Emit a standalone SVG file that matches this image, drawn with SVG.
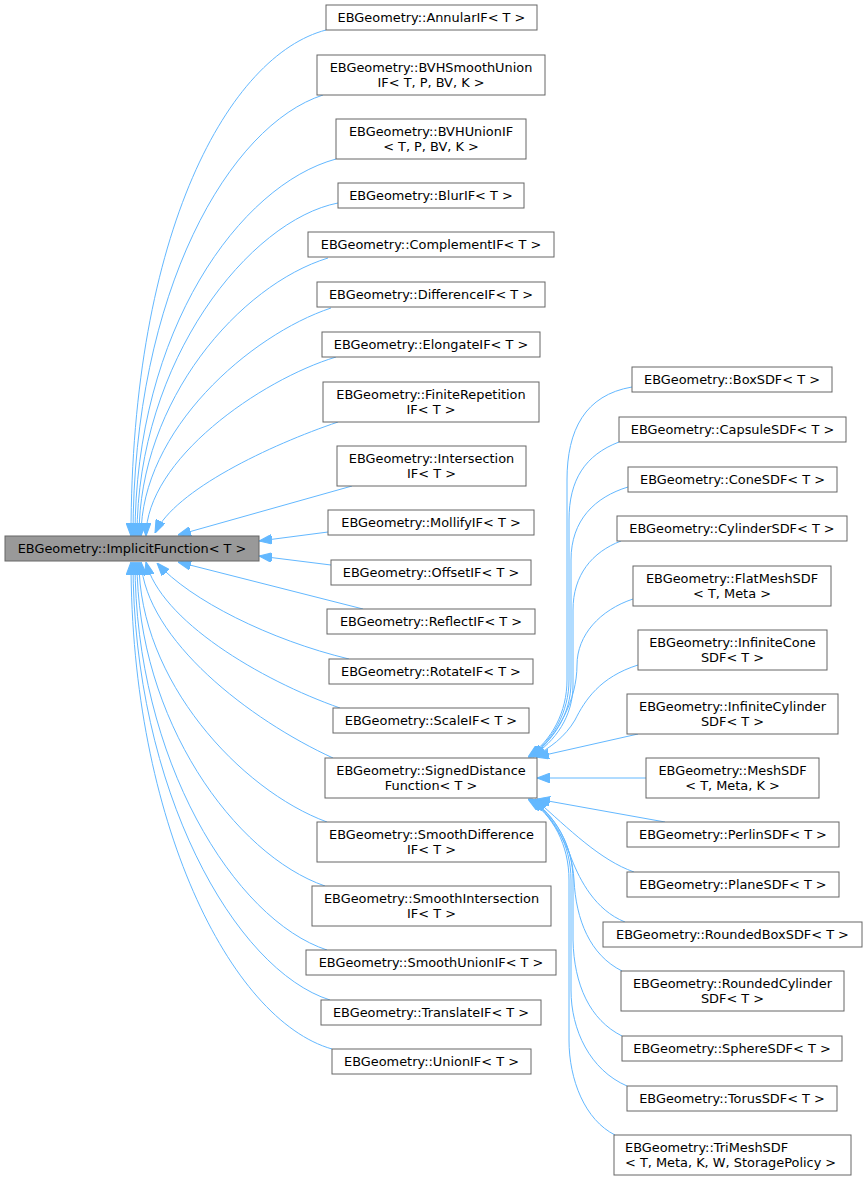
<svg xmlns="http://www.w3.org/2000/svg" width="867" height="1181" viewBox="0 0 867 1181">
<style>
.n rect{fill:#fff;stroke:#666;stroke-width:1}
.root rect{fill:#999;stroke:#666;stroke-width:1}
text{font-family:"DejaVu Sans",sans-serif;font-size:12.9px;fill:#000;text-anchor:middle}
.e path{fill:none;stroke:#63b8ff;stroke-width:1;marker-end:url(#a)}
</style>
<defs>
<marker id="a" markerUnits="userSpaceOnUse" markerWidth="13" markerHeight="10" refX="12" refY="4.5" orient="auto" viewBox="0 0 12 9">
<path d="M0,0 L12,4.5 L0,9 z" fill="#63b8ff" stroke="#63b8ff" stroke-width="1"/>
</marker>
</defs>
<rect width="867" height="1181" fill="#fff"/>
<g id="edges" class="e">
<path d="M326,30 C230,55 131,230 131,536"/>
<path d="M323,95 C230,125 133,290 133,536"/>
<path d="M336,159 C240,185 135,330 135,536"/>
<path d="M338,203 C250,220 137,360 137,536"/>
<path d="M328,258 C240,285 139,400 139,536"/>
<path d="M331,308 C250,335 141,430 141,536"/>
<path d="M336,357 C260,380 146,460 146,536"/>
<path d="M338,422 C270,445 175,490 155,533"/>
<path d="M352,486 L178,535"/>
<path d="M328,532 L259,541"/>
<path d="M331,565 L259,556"/>
<path d="M363,609 L178,562"/>
<path d="M349,659 C270,640 190,600 157,563"/>
<path d="M340,708 C260,680 160,620 146,562"/>
<path d="M333,758 C250,720 146,640 141,562"/>
<path d="M327,822 C240,790 139,680 139,562"/>
<path d="M325,886 C235,855 137,720 137,562"/>
<path d="M327,950 C235,920 135,760 135,562"/>
<path d="M330,1000 C235,970 133,790 133,562"/>
<path d="M332,1049 C230,1020 131,820 131,562"/>
<path d="M632,387 C585,395 567,430 567,480 L567,680 C567,712 552,740 528,757"/>
<path d="M619,442 C585,455 569,480 569,520 L569,680 C569,712 553,740 529,757"/>
<path d="M628,487 C595,497 571,520 571,560 L571,682 C571,714 554,740 530,757"/>
<path d="M621,541 C592,552 573,575 573,610 L573,685 C573,716 556,741 531,757"/>
<path d="M633,599 C600,610 577,635 577,665 C577,700 558,735 532,757"/>
<path d="M638,665 C600,677 585,700 575,720 C565,737 550,748 533,757"/>
<path d="M638,734 L536,757"/>
<path d="M646,778 L537,778"/>
<path d="M665,822 L537,799"/>
<path d="M634,872 C600,860 570,830 535,799"/>
<path d="M625,922 C595,910 580,880 572,860 C565,840 550,815 532,799"/>
<path d="M622,971 C590,955 576,920 574,880 C572,845 555,815 531,799"/>
<path d="M622,1036 C590,1020 574,985 573,940 L573,880 C573,845 555,815 530,799"/>
<path d="M627,1086 C590,1070 571,1030 571,990 L571,880 C571,845 554,815 529,799"/>
<path d="M615,1135 C585,1120 569,1080 569,1040 L569,880 C569,845 553,815 528,799"/>
</g>
<g id="ImplicitFunction" class="root"><rect x="5" y="536" width="254" height="25"/><text x="132" y="553">EBGeometry::ImplicitFunction&lt; T &gt;</text></g>
<g id="AnnularIF" class="n"><rect x="326" y="5" width="211" height="25"/><text x="431.5" y="22">EBGeometry::AnnularIF&lt; T &gt;</text></g>
<g id="BVHSmoothUnionIF" class="n"><rect x="317" y="55" width="228" height="40"/><text x="431" y="71.5">EBGeometry::BVHSmoothUnion</text><text x="431" y="86.5">IF&lt; T, P, BV, K &gt;</text></g>
<g id="BVHUnionIF" class="n"><rect x="336" y="119" width="190" height="40"/><text x="431" y="135.5">EBGeometry::BVHUnionIF</text><text x="431" y="150.5">&lt; T, P, BV, K &gt;</text></g>
<g id="BlurIF" class="n"><rect x="338" y="183" width="186" height="25"/><text x="431" y="200">EBGeometry::BlurIF&lt; T &gt;</text></g>
<g id="ComplementIF" class="n"><rect x="308" y="232" width="246" height="25"/><text x="431" y="249">EBGeometry::ComplementIF&lt; T &gt;</text></g>
<g id="DifferenceIF" class="n"><rect x="317" y="282" width="228" height="25"/><text x="431" y="299">EBGeometry::DifferenceIF&lt; T &gt;</text></g>
<g id="ElongateIF" class="n"><rect x="322" y="332" width="218" height="25"/><text x="431" y="349">EBGeometry::ElongateIF&lt; T &gt;</text></g>
<g id="FiniteRepetitionIF" class="n"><rect x="323" y="382" width="216" height="40"/><text x="431" y="398.5">EBGeometry::FiniteRepetition</text><text x="431" y="413.5">IF&lt; T &gt;</text></g>
<g id="IntersectionIF" class="n"><rect x="337" y="446" width="189" height="40"/><text x="431.5" y="462.5">EBGeometry::Intersection</text><text x="431.5" y="477.5">IF&lt; T &gt;</text></g>
<g id="MollifyIF" class="n"><rect x="328" y="510" width="206" height="25"/><text x="431" y="527">EBGeometry::MollifyIF&lt; T &gt;</text></g>
<g id="OffsetIF" class="n"><rect x="331" y="560" width="200" height="25"/><text x="431" y="577">EBGeometry::OffsetIF&lt; T &gt;</text></g>
<g id="ReflectIF" class="n"><rect x="327" y="609" width="208" height="25"/><text x="431" y="626">EBGeometry::ReflectIF&lt; T &gt;</text></g>
<g id="RotateIF" class="n"><rect x="329" y="659" width="204" height="25"/><text x="431" y="676">EBGeometry::RotateIF&lt; T &gt;</text></g>
<g id="ScaleIF" class="n"><rect x="333" y="708" width="196" height="25"/><text x="431" y="725">EBGeometry::ScaleIF&lt; T &gt;</text></g>
<g id="SignedDistanceFunction" class="n"><rect x="325" y="758" width="212" height="40"/><text x="431" y="774.5">EBGeometry::SignedDistance</text><text x="431" y="789.5">Function&lt; T &gt;</text></g>
<g id="SmoothDifferenceIF" class="n"><rect x="317" y="822" width="229" height="40"/><text x="431.5" y="838.5">EBGeometry::SmoothDifference</text><text x="431.5" y="853.5">IF&lt; T &gt;</text></g>
<g id="SmoothIntersectionIF" class="n"><rect x="312" y="886" width="239" height="40"/><text x="431.5" y="902.5">EBGeometry::SmoothIntersection</text><text x="431.5" y="917.5">IF&lt; T &gt;</text></g>
<g id="SmoothUnionIF" class="n"><rect x="306" y="950" width="250" height="25"/><text x="431" y="967">EBGeometry::SmoothUnionIF&lt; T &gt;</text></g>
<g id="TranslateIF" class="n"><rect x="321" y="1000" width="220" height="25"/><text x="431" y="1017">EBGeometry::TranslateIF&lt; T &gt;</text></g>
<g id="UnionIF" class="n"><rect x="332" y="1049" width="199" height="25"/><text x="431.5" y="1066">EBGeometry::UnionIF&lt; T &gt;</text></g>
<g id="BoxSDF" class="n"><rect x="632" y="367" width="200" height="25"/><text x="732" y="384">EBGeometry::BoxSDF&lt; T &gt;</text></g>
<g id="CapsuleSDF" class="n"><rect x="619" y="417" width="227" height="25"/><text x="732.5" y="434">EBGeometry::CapsuleSDF&lt; T &gt;</text></g>
<g id="ConeSDF" class="n"><rect x="628" y="467" width="209" height="25"/><text x="732.5" y="484">EBGeometry::ConeSDF&lt; T &gt;</text></g>
<g id="CylinderSDF" class="n"><rect x="617" y="516" width="230" height="25"/><text x="732" y="533">EBGeometry::CylinderSDF&lt; T &gt;</text></g>
<g id="FlatMeshSDF" class="n"><rect x="633" y="566" width="198" height="40"/><text x="732" y="582.5">EBGeometry::FlatMeshSDF</text><text x="732" y="597.5">&lt; T, Meta &gt;</text></g>
<g id="InfiniteConeSDF" class="n"><rect x="638" y="630" width="189" height="40"/><text x="732.5" y="646.5">EBGeometry::InfiniteCone</text><text x="732.5" y="661.5">SDF&lt; T &gt;</text></g>
<g id="InfiniteCylinderSDF" class="n"><rect x="627" y="694" width="211" height="40"/><text x="732.5" y="710.5">EBGeometry::InfiniteCylinder</text><text x="732.5" y="725.5">SDF&lt; T &gt;</text></g>
<g id="MeshSDF" class="n"><rect x="646" y="758" width="173" height="40"/><text x="732.5" y="774.5">EBGeometry::MeshSDF</text><text x="732.5" y="789.5">&lt; T, Meta, K &gt;</text></g>
<g id="PerlinSDF" class="n"><rect x="627" y="822" width="212" height="25"/><text x="733" y="839">EBGeometry::PerlinSDF&lt; T &gt;</text></g>
<g id="PlaneSDF" class="n"><rect x="627" y="872" width="212" height="25"/><text x="733" y="889">EBGeometry::PlaneSDF&lt; T &gt;</text></g>
<g id="RoundedBoxSDF" class="n"><rect x="603" y="922" width="259" height="25"/><text x="732.5" y="939">EBGeometry::RoundedBoxSDF&lt; T &gt;</text></g>
<g id="RoundedCylinderSDF" class="n"><rect x="621" y="971" width="223" height="40"/><text x="732.5" y="987.5">EBGeometry::RoundedCylinder</text><text x="732.5" y="1002.5">SDF&lt; T &gt;</text></g>
<g id="SphereSDF" class="n"><rect x="622" y="1036" width="220" height="25"/><text x="732" y="1053">EBGeometry::SphereSDF&lt; T &gt;</text></g>
<g id="TorusSDF" class="n"><rect x="627" y="1086" width="210" height="25"/><text x="732" y="1103">EBGeometry::TorusSDF&lt; T &gt;</text></g>
<g id="TriMeshSDF" class="n"><rect x="614" y="1135" width="237" height="40"/><text x="625" y="1151.5" style="text-anchor:start">EBGeometry::TriMeshSDF</text><text x="625" y="1166.5" style="text-anchor:start">&lt; T, Meta, K, W, StoragePolicy &gt;</text></g>
</svg>
